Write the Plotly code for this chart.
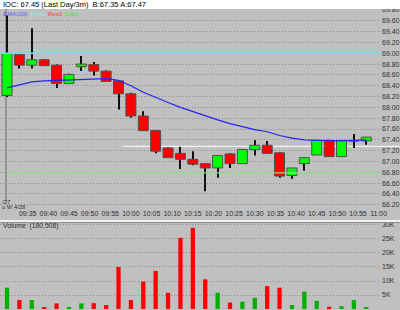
import plotly.graph_objects as go
import pandas as pd

# ---------------- data ----------------
day = "2008-04-28"
times = ["09:30", "09:33", "09:36", "09:39", "09:42", "09:45", "09:48", "09:51", "09:54", "09:57",
         "10:00", "10:03", "10:06", "10:09", "10:12", "10:15", "10:18", "10:21", "10:24", "10:27",
         "10:30", "10:33", "10:36", "10:39", "10:42", "10:45", "10:48", "10:51", "10:54", "10:57"]
opens = [68.22, 68.98, 68.78, 68.88, 68.78, 68.44, 68.75, 68.79, 68.67, 68.49,
         68.25, 67.84, 67.57, 67.25, 67.15, 67.04, 66.96, 66.88, 67.14, 66.96,
         67.22, 67.30, 67.16, 66.74, 66.96, 67.12, 67.39, 67.09, 67.38, 67.38]
highs = [69.70, 69.01, 69.46, 68.89, 68.79, 68.62, 68.95, 68.84, 68.68, 68.50,
         68.27, 67.93, 67.58, 67.26, 67.27, 67.19, 66.97, 67.11, 67.15, 67.22,
         67.39, 67.38, 67.17, 66.88, 67.07, 67.39, 67.40, 67.39, 67.51, 67.45]
lows = [68.19, 68.72, 68.72, 68.77, 68.36, 68.44, 68.67, 68.59, 68.48, 67.96,
        67.81, 67.57, 67.15, 67.07, 66.86, 66.93, 66.45, 66.70, 66.88, 66.96,
        67.11, 67.15, 66.70, 66.68, 66.83, 67.12, 67.09, 67.09, 67.25, 67.31]
closes = [69.00, 68.78, 68.88, 68.77, 68.44, 68.61, 68.80, 68.67, 68.48, 68.25,
          67.84, 67.57, 67.19, 67.07, 67.04, 66.95, 66.88, 67.11, 66.96, 67.22,
          67.30, 67.15, 66.73, 66.88, 67.07, 67.39, 67.09, 67.39, 67.38, 67.45]
ema20 = [68.36, 68.42, 68.47, 68.49, 68.50, 68.51, 68.52, 68.53, 68.53, 68.50,
         68.40, 68.28, 68.18, 68.09, 68.00, 67.92, 67.84, 67.77, 67.70, 67.64,
         67.59, 67.55, 67.48, 67.43, 67.40, 67.39, 67.38, 67.38, 67.39, 67.40]
volumes = [7600, 3200, 3200, 500, 2000, 700, 2000, 2100, 1400, 15000,
           3200, 9800, 13600, 5800, 25400, 29000, 10600, 5800, 2300, 2600,
           4000, 8200, 7600, 1400, 6200, 2900, 800, 1000, 3200, 600]
tick_labels = ["09:35", "09:40", "09:45", "09:50", "09:55", "10:00", "10:05", "10:10", "10:15",
               "10:20", "10:25", "10:30", "10:35", "10:40", "10:45", "10:50", "10:55", "11:00"]
vol_ticks = [0, 5000, 10000, 15000, 20000, 25000, 30000]
vol_tick_labels = ["0K", "5K", "10K", "15K", "20K", "25K", "30K"]
pivot = 69.00
sup1 = 66.79
last_line = 67.28
last_line_start = "09:58"
title_text = "IOC: 67.45 (Last Day/3m)  B:67.35 A:67.47"

# ---------------- layout constants ----------------
W, H = 400, 310
ML, MR, MT, MB = 0, 19, 9, 0
PW, PH = W - ML - MR, H - MT - MB
x_start = pd.Timestamp(day + " 09:28:18")
x_end = pd.Timestamp(day + " 11:00:34")
price_range = [66.14, 69.818]
vol_range = [-357, 30710]
BG = "#C0C0C0"
FONT = "Liberation Sans"


def py(pix):
    return (H - MB - pix) / PH


def pxf(pix):
    return (pix - ML) / PW


def tfrac(t):
    return (pd.Timestamp(t) - x_start) / (x_end - x_start)


xs = [pd.Timestamp(day + " " + t) for t in times]
bar_w_ms = 145000
wick_w_ms = 14500
vol_w_ms = 62000

up = [c >= o for o, c in zip(opens, closes)]
body_base = [min(o, c) for o, c in zip(opens, closes)]
body_h = [abs(c - o) for o, c in zip(opens, closes)]
body_col = ["#00FF00" if u else "#FF0000" for u in up]
vol_col = ["#00B000" if u else "#FF0000" for u in up]

fig = go.Figure()

# wicks
fig.add_trace(go.Bar(x=xs, y=[h - l for h, l in zip(highs, lows)], base=lows,
                     width=wick_w_ms, marker=dict(color="#101010", line=dict(width=0)),
                     xaxis="x", yaxis="y", hoverinfo="skip", showlegend=False))
# bodies
fig.add_trace(go.Bar(x=xs, y=body_h, base=body_base, width=bar_w_ms,
                     marker=dict(color=body_col, line=dict(color="#505050", width=1)),
                     xaxis="x", yaxis="y", showlegend=False))

# pivot & support lines
fig.add_trace(go.Scatter(x=[x_start, x_end], y=[pivot, pivot], mode="lines",
                         line=dict(color="#66E8E8", width=1.5), xaxis="x", yaxis="y",
                         hoverinfo="skip", showlegend=False))
fig.add_trace(go.Scatter(x=[xs[0], x_end], y=[sup1, sup1], mode="lines",
                         line=dict(color="#8EE08E", width=1.2), xaxis="x", yaxis="y",
                         hoverinfo="skip", showlegend=False))
# EMA
fig.add_trace(go.Scatter(x=xs, y=ema20, mode="lines", line=dict(color="#2626F0", width=1.2),
                         xaxis="x", yaxis="y", showlegend=False))

# volume
fig.add_trace(go.Bar(x=xs, y=volumes, width=vol_w_ms, marker=dict(color=vol_col, line=dict(width=0)),
                     xaxis="x2", yaxis="y2", showlegend=False))

grid = dict(showgrid=True, gridcolor="#8C8C8C", griddash="1px,2px", gridwidth=1)

fig.update_layout(
    width=W, height=H, margin=dict(l=ML, r=MR, t=MT, b=MB, pad=0),
    template="none", paper_bgcolor=BG, plot_bgcolor=BG,
    barmode="overlay", showlegend=False,
    font=dict(family=FONT, size=7, color="#303030"),
    xaxis=dict(domain=[0, 1], anchor="y", type="date", range=[x_start, x_end],
               tickvals=[pd.Timestamp(day + " " + t) for t in tick_labels], ticktext=tick_labels,
               showgrid=False, zeroline=False, showline=False, ticks="", automargin=False,
               tickfont=dict(size=7, color="#303030")),
    xaxis2=dict(domain=[0, 1], anchor="y2", type="date", matches="x", range=[x_start, x_end],
                showticklabels=False, showgrid=False, zeroline=False, showline=False, ticks="",
                automargin=False),
    yaxis=dict(domain=[py(208), 1], anchor="x", range=price_range, side="right",
               tick0=0, dtick=0.2, tickformat=".2f", zeroline=False, showline=False, ticks="",
               automargin=False, tickfont=dict(size=7, color="#303030"), **grid),
    yaxis2=dict(domain=[0, py(223)], anchor="x2", range=vol_range, side="right",
                tickvals=vol_ticks, ticktext=vol_tick_labels, zeroline=False, showline=False,
                ticks="", automargin=False, tickfont=dict(size=7, color="#303030"), **grid),
)

shapes = [
    # day separator
    dict(type="line", xref="x", yref="y", x0=pd.Timestamp(day + " 09:29:45"),
         x1=pd.Timestamp(day + " 09:29:45"), y0=66.26, y1=price_range[1],
         line=dict(color="#6A6A6A", width=1), layer="below"),
    # last price line (extends into the label area)
    dict(type="line", xref="paper", yref="y", x0=tfrac(day + " " + last_line_start), x1=1.06,
         y0=last_line, y1=last_line, line=dict(color="#FFFFFF", width=1), layer="below"),
    # panel separator
    dict(type="line", xref="paper", yref="paper", x0=-0.01, x1=1.06, y0=py(221), y1=py(221),
         line=dict(color="#FFFFFF", width=1.5), layer="above"),
    dict(type="line", xref="paper", yref="paper", x0=-0.01, x1=1.06, y0=py(222.6), y1=py(222.6),
         line=dict(color="#8C8C8C", width=1), layer="above"),
    # white strip on top
    dict(type="rect", xref="paper", yref="paper", x0=-0.01, x1=1.06, y0=1, y1=1.05,
         fillcolor="#FFFFFF", line=dict(width=0), layer="above"),
]
fig.update_layout(shapes=shapes)

ann = []
ann.append(dict(text=title_text, xref="paper", yref="paper", x=pxf(1), y=py(4.5),
                xanchor="left", yanchor="middle", showarrow=False,
                font=dict(size=7.5, color="#000000", family=FONT)))
legend_items = [("EMA(20)", "#5A5AFF", 1), ("Pivot", "#7FEFEF", 29), ("Res1", "#FF3A3A", 46),
                ("Sup1", "#3AEF3A", 62)]
for txt, col, xp in legend_items:
    ann.append(dict(text=txt, xref="paper", yref="paper", x=pxf(xp), y=py(13.5),
                    xanchor="left", yanchor="middle", showarrow=False,
                    font=dict(size=6.2, color=col, family=FONT)))
ann.append(dict(text="Volume  (180,508)", xref="paper", yref="paper", x=pxf(1), y=py(225.5),
                xanchor="left", yanchor="middle", showarrow=False,
                font=dict(size=6.8, color="#303030", family=FONT)))
ann.append(dict(text="/27", xref="paper", yref="paper", x=pxf(0), y=py(202),
                xanchor="left", yanchor="middle", showarrow=False,
                font=dict(size=6, color="#303030", family=FONT)))
ann.append(dict(text="u W 4/28", xref="paper", yref="paper", x=pxf(0), y=py(207.5),
                xanchor="left", yanchor="middle", showarrow=False,
                font=dict(size=5.8, color="#303030", family=FONT)))
fig.update_layout(annotations=ann)

fig.write_html("out.html")
